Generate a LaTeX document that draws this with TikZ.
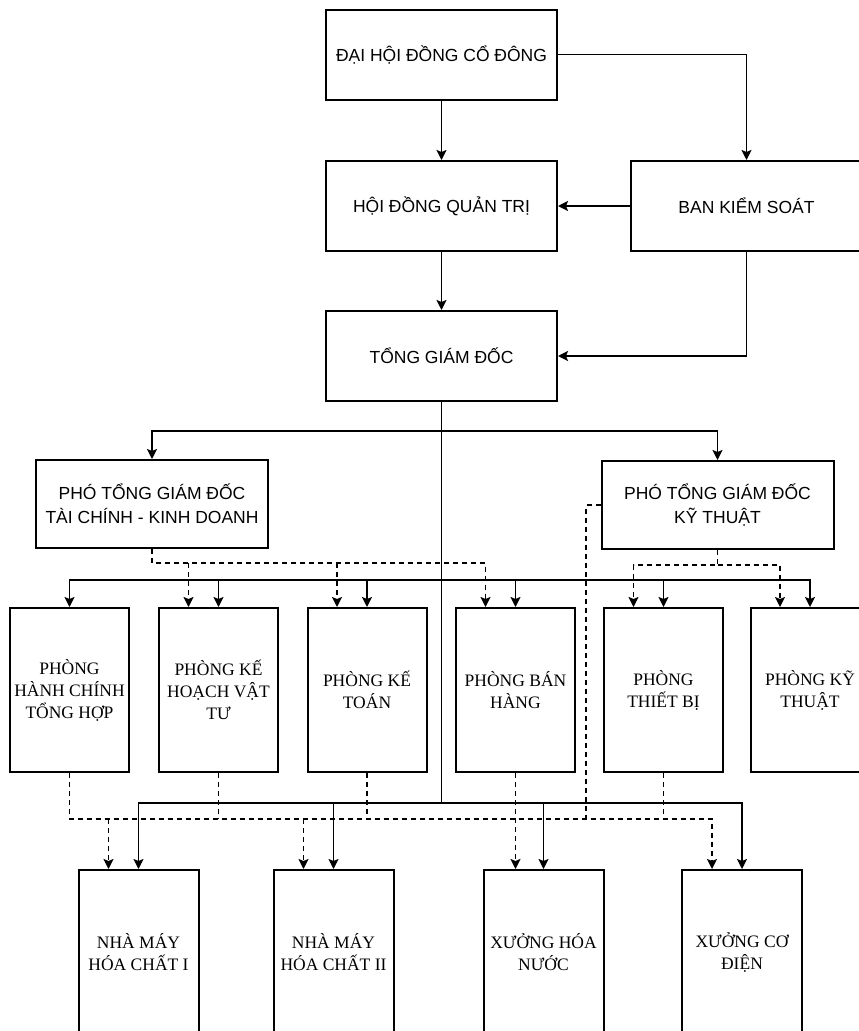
\documentclass[tikz,border=0pt]{standalone}
\usepackage{fontspec}
\setmainfont{Liberation Serif}
\newfontfamily\boxsans{Liberation Sans}
\usetikzlibrary{arrows.meta,calc}

\begin{document}
\begin{tikzpicture}[x=1pt,y=-1pt,
  top/.style={draw,line width=2pt,minimum width=231pt,minimum height=90pt,
    align=center,font=\boxsans\fontsize{17.5}{24}\selectfont},
  vice/.style={top,minimum width=232pt,minimum height=88pt},
  dept/.style={draw,line width=2pt,minimum width=119pt,minimum height=164pt,
    align=center,font=\fontsize{17.5}{22}\selectfont},
  unit/.style={dept,minimum width=120pt},
  arr/.style={line width=1.8pt,-{Stealth[length=10pt,width=10pt,inset=2pt]}},
  dashln/.style={line width=1.8pt,dash pattern=on 5pt off 4pt},
  dasharr/.style={dashln,-{Stealth[length=10pt,width=10pt,inset=2pt]}}]
\useasboundingbox (0,0) rectangle (859,1031);
\clip (0,0) rectangle (859,1031);
\fill[white] (0,0) rectangle (859,1031);

% Top management
\node[top] (dhdcd) at (441.5,54.5) {ĐẠI HỘI ĐỒNG CỔ ĐÔNG};
\node[top] (hdqt) at (441.5,206) {HỘI ĐỒNG QUẢN TRỊ};
\node[top] (bks) at (746.5,206) {BAN KIỂM SOÁT};
\node[top] (tgd) at (441.5,356) {TỔNG GIÁM ĐỐC};

% Deputies
\node[vice] (ptgdtc) at (152,504) {PHÓ TỔNG GIÁM ĐỐC\\TÀI CHÍNH - KINH DOANH};
\node[vice] (ptgdkt) at (717.5,505) {PHÓ TỔNG GIÁM ĐỐC\\KỸ THUẬT};

% Departments
\node[dept] (d1) at (69.5,690) {PHÒNG\\HÀNH CHÍNH\\TỔNG HỢP};
\node[dept] (d2) at (218.5,690) {PHÒNG KẾ\\HOẠCH VẬT\\TƯ};
\node[dept] (d3) at (367,690) {PHÒNG KẾ\\TOÁN};
\node[dept] (d4) at (515.5,690) {PHÒNG BÁN\\HÀNG};
\node[dept] (d5) at (663.5,690) {PHÒNG\\THIẾT BỊ};
\node[dept] (d6) at (810,690) {PHÒNG KỸ\\THUẬT};

% Factories
\node[unit] (f1) at (138.5,952) {NHÀ MÁY\\HÓA CHẤT I};
\node[unit] (f2) at (333.5,952) {NHÀ MÁY\\HÓA CHẤT II};
\node[unit] (f3) at (543.5,952) {XƯỞNG HÓA\\NƯỚC};
\node[unit] (f4) at (742,952) {XƯỞNG CƠ\\ĐIỆN};

\coordinate (split) at (441.5,431);
\coordinate (bus1) at (441.5,580);
\coordinate (bus2) at (441.5,803);
\coordinate (tcbus) at (152,563);
\coordinate (ktbus) at (717.5,565);
\coordinate (lb) at (0,819);
\coordinate (ktdown) at (586,819);

% Solid lines
\draw[arr] (dhdcd.east) -| (bks.north);
\draw[arr] (dhdcd) -- (hdqt);
\draw[arr] (bks) -- (hdqt);
\draw[arr] (hdqt) -- (tgd);
\draw[arr] (bks.south) |- (tgd.east);
\draw[line width=1.8pt] (tgd.south) -- (bus2);
\draw[arr] (split) -| (ptgdtc.north);
\draw[arr] (split) -| (ptgdkt.north);
\foreach \i in {1,...,6} \draw[arr] (bus1) -| (d\i.north);
\foreach \i in {1,...,4} \draw[arr] (bus2) -| (f\i.north);

% Dashed lines
\draw[dasharr] (ptgdtc.south) -- (tcbus) -| ([xshift=-30pt]d4.north);
\foreach \i in {2,3} \draw[dasharr] ([xshift=-30pt]d\i.north |- tcbus) -- ([xshift=-30pt]d\i.north);
\draw[dasharr] (ptgdkt.south) -- (ktbus) -| ([xshift=-30pt]d5.north);
\draw[dasharr] (ktbus) -| ([xshift=-30pt]d6.north);
\draw[dashln] (ptgdkt.west) -| (ktdown);
\draw[dasharr] (d1.south) -- (d1.south |- lb) -| ([xshift=-30pt]f4.north);
\foreach \i in {2,3,5} \draw[dashln] (d\i.south) -- (d\i.south |- lb);
\draw[dasharr] (d4.south) -- (d4.south |- f3.north);
\foreach \i in {1,2} \draw[dasharr] ([xshift=-30pt]f\i.north |- lb) -- ([xshift=-30pt]f\i.north);
\end{tikzpicture}
\end{document}
